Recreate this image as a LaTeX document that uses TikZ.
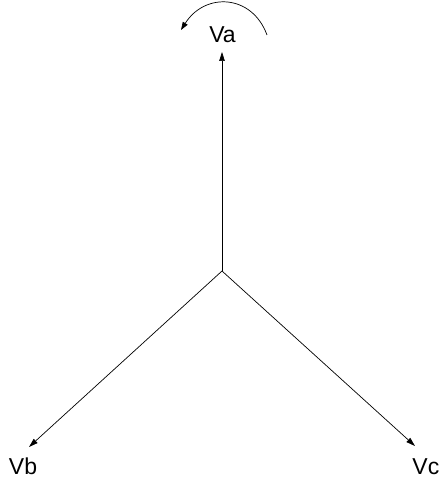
\documentclass[tikz,border=0pt]{standalone}
\usepackage{fontspec}
\setmainfont{Liberation Sans}
\usetikzlibrary{arrows.meta}
\begin{document}
\begin{tikzpicture}[x=1pt,y=-1pt,
  phasor/.style={line width=0.7pt,-{Triangle[length=9pt,width=5.5pt]}},
  lbl/.style={inner sep=0pt,font=\fontsize{23}{27}\selectfont}]
\useasboundingbox (0,0) rectangle (440,481);
\coordinate (o) at (222,271);
\coordinate (ta) at (222,52);
\coordinate (tb) at (29,447);
\coordinate (tc) at (415,446);
\node[lbl] (va) at (222.5,35) {Va};
\node[lbl] (vb) at (23,466) {Vb};
\node[lbl,anchor=east] (vc) at (439.5,467) {Vc};
\draw[phasor] (o) -- (ta);
\draw[phasor] (o) -- (tb);
\draw[phasor] (o) -- (tc);
\coordinate (cs) at (267,35);
\coordinate (ce) at (181,30);
\draw[line width=0.7pt,-{Triangle[length=8pt,width=5.5pt]}] (cs) .. controls (252,-6) and (205,-8) .. (ce);
\end{tikzpicture}
\end{document}
